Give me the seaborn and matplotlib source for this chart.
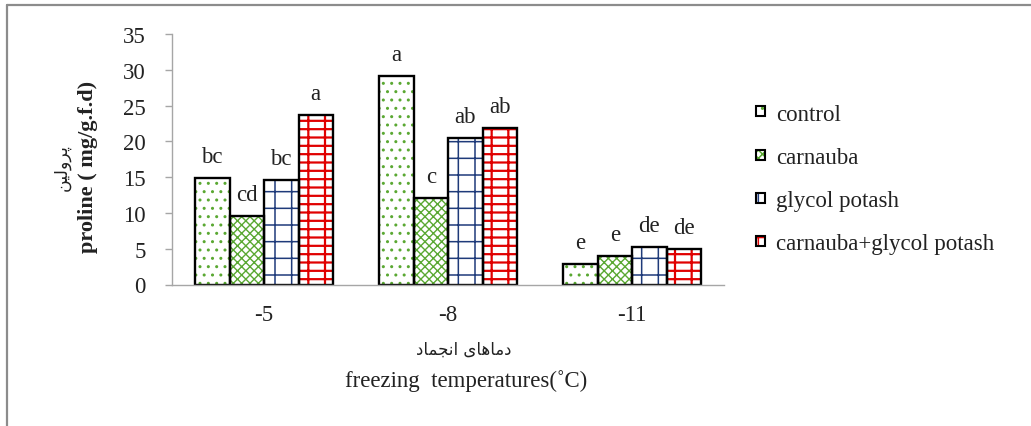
import numpy as np
import pandas as pd
import seaborn as sns
import matplotlib
matplotlib.use("Agg")
import matplotlib.pyplot as plt
from matplotlib.patches import Patch
from matplotlib.lines import Line2D
from matplotlib.legend_handler import HandlerTuple

# ---------------- data ----------------
temps = ["-5", "-8", "-11"]
treatments = ["control", "carnauba", "glycol potash", "carnauba+glycol potash"]
control = [14.9, 29.1, 2.9]
carnauba = [9.6, 12.1, 4.0]
glycol_potash = [14.6, 20.5, 5.3]
carnauba_glycol = [23.7, 21.9, 5.0]
letters_control = ["bc", "a", "e"]
letters_carnauba = ["cd", "c", "e"]
letters_glycol = ["bc", "ab", "de"]
letters_combo = ["a", "ab", "de"]
y_ticks = [0, 5, 10, 15, 20, 25, 30, 35]
ylabel_en = "proline ( mg/g.f.d)"
ylabel_fa = "پرولین"
xlabel_en = "freezing  temperatures(˚C)"
xlabel_fa = "دماهای انجماد"

series = [control, carnauba, glycol_potash, carnauba_glycol]
letters = [letters_control, letters_carnauba, letters_glycol, letters_combo]

# ---------------- minimal Persian shaping (presentation forms, visual order) ----------------
_FORMS = {
    "پ": ("\uFB56", "\uFB57", "\uFB58", "\uFB59"),
    "ر": ("\uFEAD", "\uFEAE"),
    "و": ("\uFEED", "\uFEEE"),
    "ل": ("\uFEDD", "\uFEDE", "\uFEDF", "\uFEE0"),
    "ی": ("\uFBFC", "\uFBFD", "\uFBFE", "\uFBFF"),
    "ن": ("\uFEE5", "\uFEE6", "\uFEE7", "\uFEE8"),
    "د": ("\uFEA9", "\uFEAA"),
    "م": ("\uFEE1", "\uFEE2", "\uFEE3", "\uFEE4"),
    "ا": ("\uFE8D", "\uFE8E"),
    "ه": ("\uFEE9", "\uFEEA", "\uFEEB", "\uFEEC"),
    "ج": ("\uFE9D", "\uFE9E", "\uFE9F", "\uFEA0"),
}


def shape_fa(text):
    out = []
    for i, ch in enumerate(text):
        f = _FORMS.get(ch)
        if f is None:
            out.append(ch)
            continue
        prev = text[i - 1] if i > 0 else None
        nxt = text[i + 1] if i + 1 < len(text) else None
        pj = prev is not None and prev in _FORMS and len(_FORMS[prev]) == 4
        nj = nxt is not None and nxt in _FORMS and len(f) == 4
        if pj and nj:
            out.append(f[3])
        elif pj:
            out.append(f[1])
        elif nj:
            out.append(f[2])
        else:
            out.append(f[0])
    return "".join(out)[::-1]


# ---------------- style ----------------
hatches = ["..", "xxxx", "+", "--|"]
hatch_colors = ["#5aa832", "#5aa832", "#1f3b7a", "#e00000"]
hatch_lws = [1.0, 1.0, 1.1, 1.6]
SERIF = ["Liberation Serif", "DejaVu Serif"]
FA = ["DejaVu Sans"]
FS = 16.5

sns.set_theme(style="white")
plt.rcParams["font.family"] = SERIF
plt.rcParams["hatch.linewidth"] = 1.1

df = pd.DataFrame(
    [(t, tr, v) for tr, vals in zip(treatments, series) for t, v in zip(temps, vals)],
    columns=["temp", "treatment", "proline"],
)

fig = plt.figure(figsize=(10.31, 4.27), dpi=100)
ax = fig.add_axes([172 / 1031, 1 - 285.5 / 427, (724 - 172) / 1031, 250.5 / 427])

# layer 1: hatched fills
sns.barplot(data=df, x="temp", y="proline", hue="treatment", order=temps,
            hue_order=treatments, palette=["white"] * 4, saturation=1,
            width=0.75, linewidth=0, errorbar=None, legend=False, ax=ax)
for cont, h, c, hl in zip(ax.containers, hatches, hatch_colors, hatch_lws):
    for bar in cont:
        bar.set_hatch(h)
        bar.set_edgecolor(c)
        bar.set_linewidth(0)
        if hasattr(bar, "set_hatch_linewidth"):
            bar.set_hatch_linewidth(hl)

fill_containers = list(ax.containers)

# layer 2: black outlines
sns.barplot(data=df, x="temp", y="proline", hue="treatment", order=temps,
            hue_order=treatments, palette=["black"] * 4, saturation=1,
            width=0.75, fill=False, linewidth=1.7, errorbar=None,
            legend=False, ax=ax)

# significance letters
for cont, labs in zip(fill_containers, letters):
    for bar, lab in zip(cont, labs):
        ax.annotate(lab, (bar.get_x() + bar.get_width() / 2, bar.get_height()),
                    xytext=(0, 11.5), textcoords="offset points",
                    ha="center", va="baseline", fontsize=FS, color="#222222")

ax.set_ylim(0, 35)
ax.set_yticks(y_ticks)
ax.set_xlabel("")
ax.set_ylabel("")
for s in ["top", "right"]:
    ax.spines[s].set_visible(False)
for s in ["left", "bottom"]:
    ax.spines[s].set_color("#a6a6a6")
    ax.spines[s].set_linewidth(1.0)
ax.tick_params(axis="y", which="both", left=True, length=5, width=1.0,
               color="#a6a6a6", pad=14, labelsize=FS, labelcolor="#222222")
ax.tick_params(axis="x", length=0, pad=14, labelsize=FS, labelcolor="#222222")

# axis titles
fig.text(88 / 1031, 1 - 167 / 427, ylabel_en, rotation=90, ha="center", va="center",
         fontsize=16, fontweight="bold", color="#222222")
fig.text(62 / 1031, 1 - 168 / 427, shape_fa(ylabel_fa), rotation=90, ha="center",
         va="center", fontsize=12.5, family=FA, color="#222222")
fig.text(464 / 1031, 1 - 350 / 427, shape_fa(xlabel_fa), ha="center", va="center",
         fontsize=12, family=FA, color="#222222")
fig.text(466 / 1031, 1 - 381 / 427, xlabel_en, ha="center", va="center",
         fontsize=FS, color="#222222")

# legend
handles = []
for h, c, hl in zip(hatches, hatch_colors, hatch_lws):
    p1 = Patch(facecolor="white", edgecolor=c, hatch=h, linewidth=0)
    p2 = Patch(fill=False, edgecolor="black", linewidth=1.5)
    handles.append((p1, p2))
leg = fig.legend(handles, treatments, loc="center left",
                 bbox_to_anchor=(756 / 1031, 1 - 180 / 427),
                 frameon=False, fontsize=FS, handlelength=0.38, handleheight=0.3,
                 handletextpad=0.5, labelspacing=0.97, borderpad=0, borderaxespad=0,
                 handler_map={tuple: HandlerTuple(ndivide=1)})
for t in leg.get_texts():
    t.set_color("#222222")

# outer frame (gray border of the chart area)
fig.add_artist(Line2D([7 / 1031, 7 / 1031], [0, 1 - 6 / 427], transform=fig.transFigure,
                      color="#8c8c8c", linewidth=1.6))
fig.add_artist(Line2D([7 / 1031, 1], [1 - 6 / 427, 1 - 6 / 427], transform=fig.transFigure,
                      color="#8c8c8c", linewidth=1.6))

fig.savefig("out.png", dpi=100, facecolor="white")
